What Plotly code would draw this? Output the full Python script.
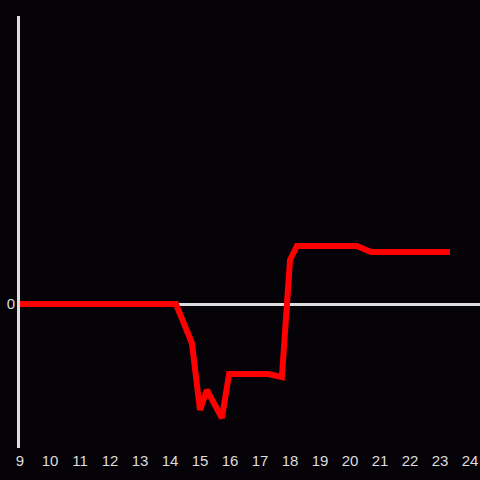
import plotly.graph_objects as go

hours = [9, 14.2, 14.73, 15.0, 15.23, 15.73, 15.97, 17.27, 17.73, 18.0, 18.23, 20.23, 20.7, 23.33]
values = [0, 0, -3.9, -10.6, -8.6, -11.4, -7.0, -7.0, -7.3, 4.4, 5.8, 5.8, 5.2, 5.2]
x_ticks = list(range(9, 25))

fig = go.Figure(go.Scatter(x=hours, y=values, mode="lines",
                           line=dict(color="#ff0000", width=6), hoverinfo="skip"))
fig.update_layout(
    width=480, height=480,
    paper_bgcolor="#050308", plot_bgcolor="#050308",
    margin=dict(l=20, r=0, t=16, b=32, pad=0),
    showlegend=False,
    font=dict(family="Liberation Sans, Arial, sans-serif", size=15, color="#dddddd"),
)
fig.update_xaxes(range=[9, 24.333], tickvals=x_ticks, showgrid=False, zeroline=False,
                 showline=False, ticks="", automargin=False, ticklabelstandoff=2,
                 tickfont=dict(color="#dddddd", size=15))
fig.update_yaxes(range=[-14.4, 28.8], tickvals=[0], showgrid=False, zeroline=True,
                 zerolinecolor="#dddddd", zerolinewidth=3, showline=True,
                 linecolor="#dddddd", linewidth=3, ticks="", automargin=False,
                 ticklabelstandoff=-1,
                 tickfont=dict(color="#dddddd", size=15))
fig.write_html("out.html", config={"displayModeBar": False},
               post_script="document.body.style.margin='0';document.body.style.background='#050308';")
